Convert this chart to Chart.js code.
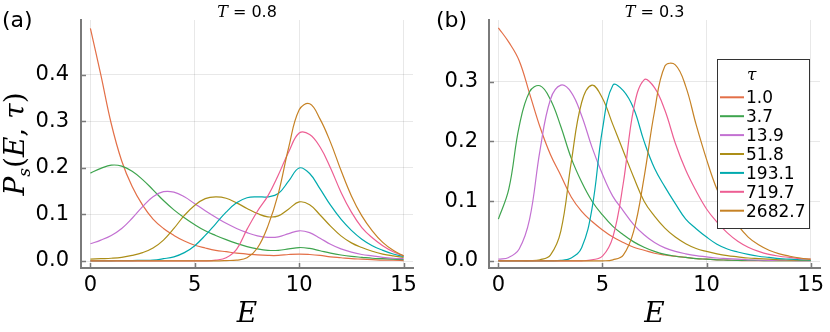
<!DOCTYPE html>
<html>
<head>
<meta charset="utf-8">
<script src="https://cdn.jsdelivr.net/npm/chart.js@4.4.1/dist/chart.umd.min.js"></script>
<style>
  html, body { margin: 0; padding: 0; background: #fff; }
  #wrap { position: relative; width: 830px; height: 332px; }
  .panel { position: absolute; top: 0; width: 415px; height: 332px; }
</style>
</head>
<body>
<div id="wrap">
  <div class="panel" style="left:0"><canvas id="chartA" width="415" height="332"></canvas></div>
  <div class="panel" style="left:415px"><canvas id="chartB" width="415" height="332"></canvas></div>
</div>
<script>
/*
  Two panels of P_s(E, tau) against E, one per temperature.
*/

// shared energy grid
const energies = [0, 0.5, 1, 1.5, 2, 2.5, 3, 3.5, 4, 4.5, 5, 5.5, 6, 6.5, 7, 7.5,
                  8, 8.5, 9, 9.5, 10, 10.5, 11, 11.5, 12, 12.5, 13, 13.5, 14, 14.5, 15];

const tauLabels = ['1.0', '3.7', '13.9', '51.8', '193.1', '719.7', '2682.7'];
const xTicks = [0, 5, 10, 15];
const yTicksA = [0, 0.1, 0.2, 0.3, 0.4];
const yTicksB = [0, 0.1, 0.2, 0.3];

// ===== panel (a): T = 0.8 =====
const A_1_0 = [0.50, 0.40, 0.295, 0.215, 0.16, 0.12, 0.09, 0.07, 0.055, 0.043, 0.034, 0.028, 0.023, 0.02, 0.017, 0.015,
               0.013, 0.012, 0.012, 0.014, 0.015, 0.014, 0.012, 0.009, 0.007, 0.005, 0.004, 0.003, 0.002, 0.002, 0.001];
const A_3_7 = [0.189, 0.199, 0.206, 0.204, 0.193, 0.175, 0.153, 0.13, 0.11, 0.093, 0.078, 0.065, 0.055, 0.046, 0.038, 0.031,
               0.026, 0.023, 0.023, 0.026, 0.029, 0.027, 0.022, 0.017, 0.013, 0.01, 0.008, 0.006, 0.005, 0.004, 0.003];
const A_13_9 = [0.037, 0.045, 0.055, 0.07, 0.092, 0.117, 0.138, 0.149, 0.148, 0.138, 0.123, 0.108, 0.094, 0.081, 0.07, 0.061,
                0.054, 0.051, 0.052, 0.059, 0.065, 0.061, 0.049, 0.036, 0.026, 0.019, 0.014, 0.011, 0.008, 0.006, 0.005];
const A_51_8 = [0.004, 0.005, 0.006, 0.008, 0.012, 0.018, 0.028, 0.045, 0.07, 0.098, 0.12, 0.134, 0.138, 0.135, 0.125, 0.113,
                0.102, 0.095, 0.097, 0.112, 0.127, 0.121, 0.099, 0.075, 0.054, 0.039, 0.029, 0.021, 0.015, 0.011, 0.008];
const A_193_1 = [0.0005, 0.0005, 0.0005, 0.0007, 0.001, 0.0015, 0.002, 0.005, 0.009, 0.018, 0.033, 0.055, 0.08, 0.105, 0.125, 0.136,
                 0.138, 0.138, 0.145, 0.172, 0.2, 0.188, 0.155, 0.12, 0.09, 0.066, 0.047, 0.033, 0.023, 0.015, 0.01];
const A_719_7 = [0.0003, 0.0003, 0.0003, 0.0003, 0.0003, 0.0003, 0.0003, 0.0003, 0.0003, 0.0003, 0.0003, 0.0003, 0.002, 0.007, 0.025, 0.068,
                 0.107, 0.14, 0.185, 0.235, 0.275, 0.272, 0.245, 0.2, 0.148, 0.105, 0.072, 0.05, 0.033, 0.02, 0.011];
const A_2682_7 = [0.0003, 0.0003, 0.0003, 0.0003, 0.0003, 0.0003, 0.0003, 0.0003, 0.0003, 0.0003, 0.0003, 0.0003, 0.0003, 0.001, 0.002, 0.007,
                  0.028, 0.075, 0.145, 0.245, 0.325, 0.338, 0.305, 0.255, 0.195, 0.14, 0.097, 0.065, 0.04, 0.023, 0.011];

// ===== panel (b): T = 0.3 =====
const B_1_0 = [0.39, 0.366, 0.335, 0.28, 0.224, 0.178, 0.143, 0.107, 0.083, 0.066, 0.052, 0.04, 0.031, 0.023, 0.018, 0.013,
               0.01, 0.008, 0.006, 0.004, 0.003, 0.002, 0.0015, 0.001, 0.0005, 0.0005, 0.0005, 0.0005, 0.0005, 0.0005, 0.0005];
const B_3_7 = [0.07, 0.12, 0.225, 0.283, 0.293, 0.27, 0.225, 0.172, 0.132, 0.1, 0.077, 0.058, 0.044, 0.032, 0.023, 0.016,
               0.011, 0.008, 0.006, 0.004, 0.003, 0.002, 0.0015, 0.001, 0.001, 0.0008, 0.0006, 0.0005, 0.0005, 0.0005, 0.0005];
const B_13_9 = [0.003, 0.006, 0.02, 0.07, 0.185, 0.27, 0.294, 0.282, 0.243, 0.19, 0.145, 0.108, 0.084, 0.061, 0.044, 0.031,
                0.022, 0.016, 0.012, 0.009, 0.007, 0.005, 0.004, 0.003, 0.002, 0.0015, 0.001, 0.001, 0.0008, 0.0006, 0.0005];
const B_51_8 = [0.0005, 0.0005, 0.0005, 0.0005, 0.002, 0.01, 0.05, 0.165, 0.265, 0.294, 0.272, 0.228, 0.184, 0.14, 0.1, 0.075,
                0.055, 0.04, 0.029, 0.021, 0.016, 0.012, 0.009, 0.007, 0.005, 0.004, 0.003, 0.002, 0.0015, 0.001, 0.001];
const B_193_1 = [0.0003, 0.0003, 0.0003, 0.0003, 0.0003, 0.0003, 0.001, 0.005, 0.022, 0.088, 0.22, 0.294, 0.285, 0.255, 0.2, 0.155,
                 0.124, 0.096, 0.07, 0.054, 0.04, 0.028, 0.02, 0.015, 0.011, 0.008, 0.006, 0.004, 0.003, 0.002, 0.0015];
const B_719_7 = [0.0003, 0.0003, 0.0003, 0.0003, 0.0003, 0.0003, 0.0003, 0.0003, 0.0003, 0.002, 0.008, 0.04, 0.13, 0.255, 0.303, 0.29,
                 0.252, 0.197, 0.152, 0.117, 0.087, 0.065, 0.047, 0.033, 0.023, 0.016, 0.011, 0.008, 0.006, 0.004, 0.003];
const B_2682_7 = [0.0003, 0.0003, 0.0003, 0.0003, 0.0003, 0.0003, 0.0003, 0.0003, 0.0003, 0.0003, 0.0003, 0.002, 0.01, 0.05, 0.14, 0.25,
                  0.326, 0.328, 0.292, 0.228, 0.17, 0.12, 0.086, 0.06, 0.04, 0.027, 0.018, 0.012, 0.008, 0.005, 0.003];

// Plots.jl default palette (without the first blue)
const palette = ['#e36f47', '#3ea44e', '#c371d2', '#ac8e18', '#00aaae', '#ed5e93', '#c68225'];
const axisColor = '#7a7a7a';
const gridColor = 'rgba(0,0,0,0.09)';
const tickFont = { family: '"DejaVu Sans"', size: 21 };

function makeDatasets(seriesList) {
    return seriesList.map((vals, i) => ({
        label: tauLabels[i],
        data: vals.map((v, j) => ({ x: energies[j], y: v })),
        borderColor: palette[i],
        backgroundColor: palette[i],
        borderWidth: 1.2,
        pointRadius: 0,
        fill: false,
        tension: 0.4,
        order: seriesList.length - i      // later series on top, like the original
    }));
}

function makeScales(yMin, yMax, yTicks, yWidth, yPad) {
    return {
        x: {
            type: 'linear', min: -0.45, max: 15.45,
            afterBuildTicks: s => { s.ticks = xTicks.map(v => ({ value: v })); },
            afterFit: s => { s.height = 64; s.paddingLeft = 0; s.paddingRight = 0; },
            ticks: { color: '#000', font: tickFont, padding: 5, maxRotation: 0, autoSkip: false,
                     callback: v => String(v) },
            grid: { color: gridColor, drawTicks: false },
            border: { color: axisColor, width: 2 },
            title: { display: true, text: 'E', color: '#000', padding: 0,
                     font: { family: '"DejaVu Serif"', style: 'italic', size: 28 } }
        },
        y: {
            type: 'linear', min: yMin, max: yMax,
            afterBuildTicks: s => { s.ticks = yTicks.map(v => ({ value: v })); },
            afterFit: s => { s.width = yWidth; s.paddingTop = 0; s.paddingBottom = 0; },
            ticks: { color: '#000', font: tickFont, padding: yPad, autoSkip: false,
                     callback: v => v.toFixed(1) },
            grid: { color: gridColor, drawTicks: false },
            border: { color: axisColor, width: 2 }
        }
    };
}

// draw a row of text pieces with different fonts, centred on cx
function drawRuns(ctx, runs, cx, y) {
    let total = 0;
    runs.forEach(r => { ctx.font = r.f; r.w = ctx.measureText(r.t).width; total += r.w; });
    let x = cx - total / 2;
    runs.forEach(r => { ctx.font = r.f; ctx.fillText(r.t, x, y + (r.dy || 0)); x += r.w; });
}

// ===== plugin: inner ticks, panel tag, title, y label, legend =====
const panelText = {
    id: 'panelText',
    afterDraw(chart, args, opts) {
        const ctx = chart.ctx, area = chart.chartArea;
        const xs = chart.scales.x, ys = chart.scales.y;
        ctx.save();

        // short inward tick marks
        ctx.strokeStyle = axisColor;
        ctx.lineWidth = 1.5;
        ys.ticks.forEach(t => {
            const py = Math.round(ys.getPixelForValue(t.value)) + 0.5;
            ctx.beginPath(); ctx.moveTo(area.left, py); ctx.lineTo(area.left + 5, py); ctx.stroke();
        });
        xs.ticks.forEach(t => {
            const px = Math.round(xs.getPixelForValue(t.value)) + 0.5;
            ctx.beginPath(); ctx.moveTo(px, area.bottom); ctx.lineTo(px, area.bottom - 5); ctx.stroke();
        });

        ctx.fillStyle = '#000';
        ctx.textAlign = 'left';
        ctx.textBaseline = 'alphabetic';

        // (a) / (b)
        ctx.font = '22px "DejaVu Sans"';
        ctx.fillText(opts.tag, opts.tagX, 27);

        // title  T = 0.8
        drawRuns(ctx, [
            { t: 'T', f: 'italic 16px "DejaVu Serif"' },
            { t: ' = ', f: '16px "DejaVu Serif"' },
            { t: opts.temp, f: '16px "DejaVu Sans"' }
        ], (area.left + area.right) / 2, 17);

        // y label  P_s(E, tau)
        if (opts.yLabel) {
            ctx.save();
            ctx.translate(24, (area.top + area.bottom) / 2);
            ctx.rotate(-Math.PI / 2);
            drawRuns(ctx, [
                { t: 'P', f: 'italic 28px "DejaVu Serif"' },
                { t: 's', f: 'italic 17px "DejaVu Serif"', dy: 6 },
                { t: '(', f: '28px "DejaVu Serif"' },
                { t: 'E', f: 'italic 28px "DejaVu Serif"' },
                { t: ', ', f: '28px "DejaVu Serif"' },
                { t: '\u03c4', f: 'italic 28px "DejaVu Serif"' },
                { t: ')', f: '28px "DejaVu Serif"' }
            ], 0, 0);
            ctx.restore();
        }

        // legend box inside the plot
        if (opts.legend) {
            const ds = chart.data.datasets;
            ctx.font = '17px "DejaVu Sans"';
            const textW = Math.max(...ds.map(d => ctx.measureText(d.label).width));
            const w = Math.round(3 + 24 + 2 + textW + 4);
            const h = 169;
            const left = Math.round(area.right - 11 - w), top = Math.round(area.top + 39);
            ctx.fillStyle = '#fff';
            ctx.fillRect(left, top, w, h);
            ctx.strokeStyle = '#333';
            ctx.lineWidth = 1;
            ctx.strokeRect(left + 0.5, top + 0.5, w, h);

            ctx.fillStyle = '#000';
            ctx.font = 'italic 17px "DejaVu Serif"';
            ctx.fillText('\u03c4', left + 30, top + 21);

            ds.forEach((d, i) => {
                const ry = top + 38.3 + i * 18.9;
                ctx.strokeStyle = d.borderColor;
                ctx.lineWidth = 2;
                ctx.beginPath(); ctx.moveTo(left + 3, ry); ctx.lineTo(left + 27, ry); ctx.stroke();
                ctx.fillStyle = '#000';
                ctx.font = '17px "DejaVu Sans"';
                ctx.fillText(d.label, left + 29, ry + 6);
            });
        }
        ctx.restore();
    }
};

function makeChart(id, series, yMin, yMax, yTicks, yWidth, yPad, rightPad, text) {
    return new Chart(document.getElementById(id), {
        type: 'line',
        data: { datasets: makeDatasets(series) },
        options: {
            responsive: false,
            animation: false,
            devicePixelRatio: 1,
            layout: { padding: { left: 0, right: rightPad, top: 20, bottom: 0 } },
            scales: makeScales(yMin, yMax, yTicks, yWidth, yPad),
            plugins: {
                legend: { display: false },
                title: { display: false },
                tooltip: { enabled: false },
                panelText: text
            }
        },
        plugins: [panelText]
    });
}

makeChart('chartA', [A_1_0, A_3_7, A_13_9, A_51_8, A_193_1, A_719_7, A_2682_7],
          -0.015, 0.518, yTicksA, 81, 12, 2,
          { tag: '(a)', tagX: 2, temp: '0.8', yLabel: true, legend: false });

makeChart('chartB', [B_1_0, B_3_7, B_13_9, B_51_8, B_193_1, B_719_7, B_2682_7],
          -0.0117, 0.403, yTicksB, 74, 11, 10,
          { tag: '(b)', tagX: 21, temp: '0.3', yLabel: false, legend: true });
</script>
</body>
</html>
